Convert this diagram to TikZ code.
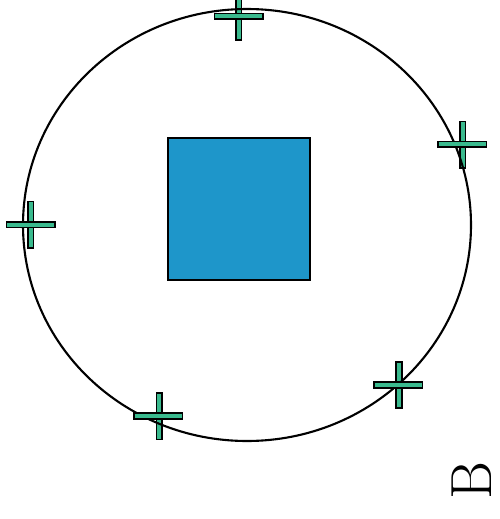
\documentclass[tikz,border=0pt]{standalone}
\usetikzlibrary{shapes.geometric}
\definecolor{sqblue}{RGB}{30,150,202}
\definecolor{crossgreen}{RGB}{58,186,142}
\begin{document}
\begin{tikzpicture}[x=1pt,y=-1pt,
  vbar/.style={draw=black,line width=1.6pt,fill=crossgreen,rectangle,inner sep=0pt,minimum width=5.6pt,minimum height=46.4pt},
  hbar/.style={draw=black,line width=1.6pt,fill=crossgreen,rectangle,inner sep=0pt,minimum width=48.4pt,minimum height=5.6pt},
  ring/.style={draw=black,line width=2.1pt,ellipse,inner sep=0pt,minimum width=448pt,minimum height=432pt},
  box/.style={draw=black,line width=2pt,fill=sqblue,rectangle,inner sep=0pt,minimum width=142.3pt,minimum height=142.3pt}]
\useasboundingbox (0,0) rectangle (499,519);
\clip (0,0) rectangle (499,519);
% vertical bars of the crosses
\node[vbar] (v1) at (238.5,17) {};
\node[vbar] (v2) at (462.7,144.8) {};
\node[vbar] (v3) at (30.7,224.7) {};
\node[vbar] (v4) at (159.3,416.2) {};
\node[vbar] (v5) at (399,385) {};
% the ring
\node[ring] (ring) at (247,225) {};
% horizontal bars of the crosses
\node[hbar] (h1) at (238.8,16.3) {};
\node[hbar] (h2) at (462.3,144.4) {};
\node[hbar] (h3) at (30.5,224.7) {};
\node[hbar] (h4) at (158.4,416) {};
\node[hbar] (h5) at (398.3,385) {};
% the square
\node[box] (sq) at (238.9,208.7) {};
% label
\node[rotate=90,inner sep=0pt,font=\fontsize{58}{58}\selectfont] (lbl) at (472,481) {B};
\end{tikzpicture}
\end{document}
